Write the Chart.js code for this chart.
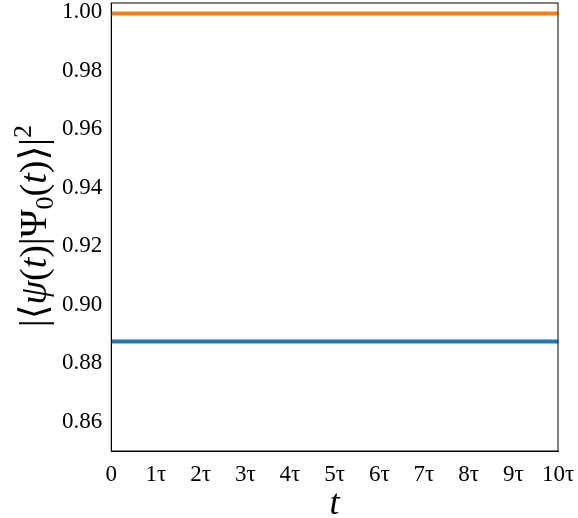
<!DOCTYPE html>
<html>
<head>
<meta charset="utf-8">
<script src="https://cdn.jsdelivr.net/npm/chart.js@4/dist/chart.umd.min.js"></script>
<style>
  html, body { margin: 0; padding: 0; background: #fff; }
  #wrap { width: 578px; height: 518px; }
</style>
</head>
<body>
<div id="wrap"><canvas id="fidelityChart" width="578" height="518"></canvas></div>
<script>
// time in units of tau
const times = [0, 1, 2, 3, 4, 5, 6, 7, 8, 9, 10];
const fidelityBlue = [0.8874, 0.8874, 0.8874, 0.8874, 0.8874, 0.8874, 0.8874, 0.8874, 0.8874, 0.8874, 0.8874];
const fidelityOrange = [0.9995, 0.9995, 0.9995, 0.9995, 0.9995, 0.9995, 0.9995, 0.9995, 0.9995, 0.9995, 0.9995];
const yTicks = [0.86, 0.88, 0.90, 0.92, 0.94, 0.96, 0.98, 1.00];

const serif = "'Liberation Serif', 'DejaVu Serif', serif";

// y label pieces: [text, italic, shift] shift: 0 normal, -1 subscript, 1 superscript
const yLabel = [
    ['|⟨', false, 0], ['ψ', true, 0], ['(', false, 0], ['t', true, 0], [')|Ψ', false, 0],
    ['0', false, -1], ['(', false, 0], ['t', true, 0], [')⟩|', false, 0], ['2', false, 1]
];

// matplotlib-style box around the plot + mixed-style y label
const frame = {
    id: 'frame',
    afterDraw(chart) {
        const a = chart.chartArea;
        const ctx = chart.ctx;
        ctx.save();
        ctx.strokeStyle = '#000';
        ctx.lineWidth = 1;
        ctx.strokeRect(a.left, a.top, a.right - a.left, a.bottom - a.top);

        const big = 38, small = 26;
        const fontOf = (p) => (p[1] ? 'italic ' : '') + (p[2] ? small : big) + 'px ' + serif;
        let total = 0;
        yLabel.forEach(p => { ctx.font = fontOf(p); total += ctx.measureText(p[0]).width; });
        ctx.translate(46, 226);
        ctx.rotate(-Math.PI / 2);
        ctx.fillStyle = '#000';
        ctx.textBaseline = 'alphabetic';
        let x = -total / 2;
        yLabel.forEach(p => {
            ctx.font = fontOf(p);
            const dy = p[2] === -1 ? 7 : (p[2] === 1 ? -15 : 0);
            ctx.fillText(p[0], x, dy);
            x += ctx.measureText(p[0]).width;
        });
        ctx.restore();
    }
};

function toPoints(vals) {
    return times.map((t, i) => ({ x: t, y: vals[i] }));
}

new Chart(document.getElementById('fidelityChart').getContext('2d'), {
    type: 'line',
    data: {
        datasets: [{
            data: toPoints(fidelityBlue),
            borderColor: '#1f77b4',
            borderWidth: 4,
            pointRadius: 0
        },
        {
            data: toPoints(fidelityOrange),
            borderColor: '#ff7f0e',
            borderWidth: 4,
            pointRadius: 0
        }]
    },
    options: {
        responsive: false,
        animation: false,
        clip: false,
        layout: { padding: { top: 3, right: 20, left: 58, bottom: 0 } },
        plugins: {
            legend: { display: false },
            tooltip: { enabled: false }
        },
        scales: {
            x: {
                type: 'linear',
                min: 0,
                max: 10,
                afterFit: (axis) => { axis.paddingRight = 0; axis.paddingLeft = 0; axis.height = 67; },
                grid: { display: false, drawTicks: true, tickLength: 5, tickColor: '#000' },
                border: { color: '#000' },
                ticks: {
                    stepSize: 1,
                    color: '#000',
                    maxRotation: 0,
                    padding: 7,
                    font: { family: serif, size: 23, lineHeight: 1 },
                    callback: (v) => v === 0 ? '0' : v + 'τ'
                },
                title: {
                    display: true,
                    text: 't',
                    color: '#000',
                    padding: { top: 4, bottom: -5 },
                    font: { family: serif, size: 36, style: 'italic', lineHeight: 1 }
                }
            },
            y: {
                min: 0.85,
                max: 1.0031,
                afterBuildTicks: (axis) => { axis.ticks = yTicks.map(v => ({ value: v })); },
                afterFit: (axis) => { axis.paddingTop = 0; axis.paddingBottom = 0; },
                grid: { display: false, drawTicks: true, tickLength: 5, tickColor: '#000' },
                border: { color: '#000' },
                ticks: {
                    color: '#000',
                    padding: 4,
                    font: { family: serif, size: 23 },
                    callback: (v) => v.toFixed(2)
                }
            }
        }
    },
    plugins: [frame]
});
</script>
</body>
</html>
